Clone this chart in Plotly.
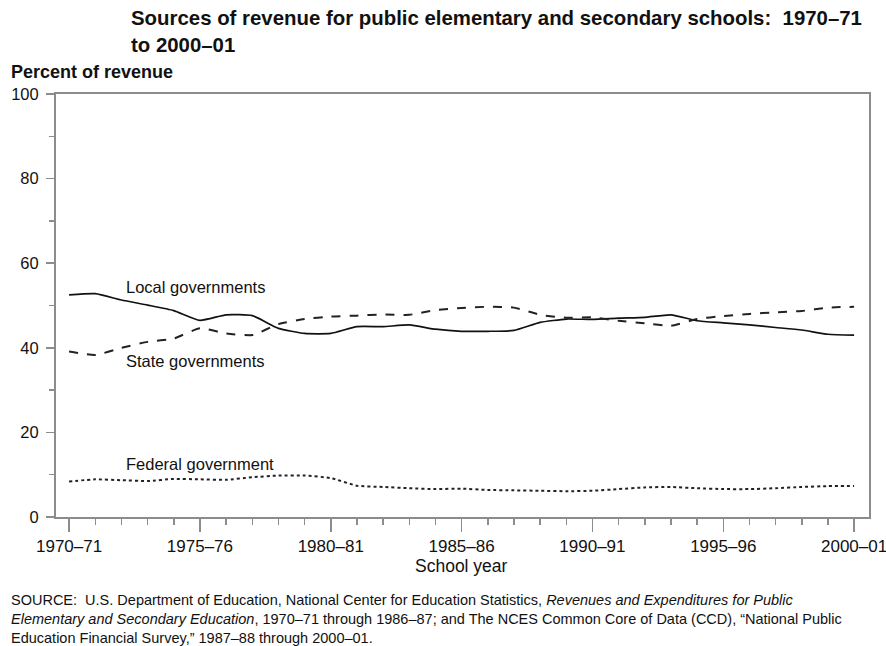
import plotly.graph_objects as go

years = list(range(1970, 2001))
local_gov = [52.5, 52.8, 51.3, 50.1, 48.8, 46.5, 47.8, 47.6, 44.6, 43.4, 43.4, 45.0, 45.0, 45.4, 44.4, 43.9,
             43.9, 44.1, 46.0, 46.8, 46.7, 47.0, 47.2, 47.8, 46.4, 45.9, 45.4, 44.8, 44.2, 43.2, 43.0]
state_gov = [39.1, 38.3, 40.0, 41.4, 42.2, 44.6, 43.4, 43.0, 45.6, 46.8, 47.4, 47.6, 47.9, 47.8, 48.9, 49.4,
             49.7, 49.5, 47.8, 47.1, 47.2, 46.4, 45.8, 45.2, 46.8, 47.5, 48.0, 48.4, 48.7, 49.5, 49.7]
federal_gov = [8.4, 8.9, 8.7, 8.5, 9.0, 8.9, 8.8, 9.4, 9.8, 9.8, 9.2, 7.4, 7.1, 6.8, 6.6, 6.7,
               6.4, 6.3, 6.2, 6.1, 6.2, 6.6, 7.0, 7.1, 6.8, 6.6, 6.6, 6.8, 7.1, 7.3, 7.3]

x_tickvals = [1970, 1975, 1980, 1985, 1990, 1995, 2000]
x_ticktext = ["1970–71", "1975–76", "1980–81", "1985–86", "1990–91", "1995–96", "2000–01"]
y_tickvals = [0, 20, 40, 60, 80, 100]

FONT = "Liberation Sans, Arial, sans-serif"
AX = "#8c8c8c"

# screen geometry of plot area (body margin removed via post_script)
PL, PR, PT, PB = 56, 869, 94, 517
PW, PH = PR - PL, PB - PT


def px(x):
    return (x - PL) / PW


def py(y):
    return (PB - y) / PH


fig = go.Figure()
fig.add_trace(go.Scatter(x=years, y=local_gov, mode="lines",
                         line=dict(color="#111111", width=1.7, shape="spline", smoothing=0.5)))
fig.add_trace(go.Scatter(x=years, y=state_gov, mode="lines",
                         line=dict(color="#222222", width=2, dash="dash", shape="spline", smoothing=0.5)))
fig.add_trace(go.Scatter(x=years, y=federal_gov, mode="lines",
                         line=dict(color="#222222", width=2, dash="dot", shape="spline", smoothing=0.5)))

fig.update_layout(
    width=886, height=646,
    margin=dict(l=PL, r=886 - PR, t=PT, b=646 - PB),
    paper_bgcolor="white", plot_bgcolor="white",
    showlegend=False,
    font=dict(family=FONT, size=16, color="#111111"),
)
fig.update_xaxes(
    range=[1969.5, 2000.57],
    tickvals=x_tickvals, ticktext=x_ticktext,
    ticks="outside", ticklen=13, tickwidth=1.5, tickcolor=AX,
    minor=dict(dtick=1, tick0=1970, ticks="outside", ticklen=6, tickwidth=1.5, tickcolor=AX),
    showline=True, linecolor=AX, linewidth=2, mirror=True,
    showgrid=False, zeroline=False,
    tickfont=dict(size=17, color="#111111"),
    automargin=False, ticklabeloverflow="allow",
)
fig.update_yaxes(
    range=[0, 100],
    tickvals=y_tickvals,
    ticks="outside", ticklen=8, tickwidth=1.5, tickcolor=AX,
    minor=dict(dtick=10, tick0=0, ticks="outside", ticklen=5, tickwidth=1.5, tickcolor=AX),
    showline=True, linecolor=AX, linewidth=2, mirror=True,
    showgrid=False, zeroline=False,
    tickfont=dict(size=16.5, color="#111111"),
    ticklabelstandoff=4,
    automargin=False, ticklabeloverflow="allow",
)

annots = [
    dict(text="Local governments", x=124, y=287),
    dict(text="State governments", x=124, y=361),
    dict(text="Federal government", x=124, y=464),
]
for a in annots:
    fig.add_annotation(text=a["text"], xref="paper", yref="paper",
                       x=px(a["x"]), y=py(a["y"]),
                       xanchor="left", yanchor="middle", showarrow=False,
                       font=dict(size=16.5, family=FONT, color="#111111"))

# Title
fig.add_annotation(text="<b>Sources of revenue for public elementary and secondary schools:  1970–71<br>to 2000–01</b>",
                   xref="paper", yref="paper", x=px(129), y=py(5),
                   xanchor="left", yanchor="top", align="left", showarrow=False,
                   font=dict(size=20.4, family=FONT, color="#111111"))
# Y-axis title
fig.add_annotation(text="<b>Percent of revenue</b>", xref="paper", yref="paper",
                   x=px(9), y=py(72), xanchor="left", yanchor="middle",
                   showarrow=False, font=dict(size=18, family=FONT, color="#111111"))
# X-axis title
fig.add_annotation(text="School year", xref="paper", yref="paper",
                   x=px(461), y=py(566), xanchor="center", yanchor="middle",
                   showarrow=False, font=dict(size=17.5, family=FONT, color="#111111"))
# Source
src = ("SOURCE:  U.S. Department of Education, National Center for Education Statistics, "
       "<i>Revenues and Expenditures for Public</i><br>"
       "<i>Elementary and Secondary Education</i>, 1970–71 through 1986–87; and The NCES Common Core of Data (CCD), “National Public<br>"
       "Education Financial Survey,” 1987–88 through 2000–01.")
fig.add_annotation(text=src, xref="paper", yref="paper",
                   x=px(9), y=py(590), xanchor="left", yanchor="top",
                   align="left", showarrow=False,
                   font=dict(size=14.5, family=FONT, color="#111111"))

fig.write_html("out.html",
               config={"displayModeBar": False, "staticPlot": True},
               post_script="document.body.style.margin='0px';document.body.style.overflow='hidden';")
